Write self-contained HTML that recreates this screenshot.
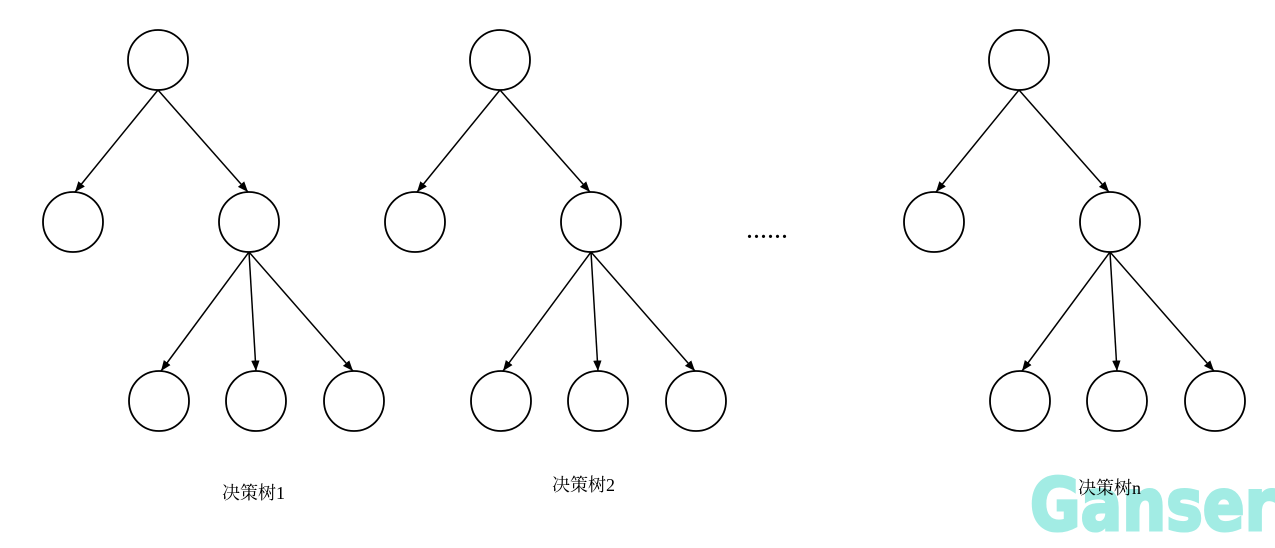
<!DOCTYPE html>
<html><head><meta charset="utf-8"><style>
html,body{margin:0;padding:0;background:#fff;}
svg{display:block}
</style></head><body>
<svg width="1275" height="548" xmlns="http://www.w3.org/2000/svg">
<defs>
<marker id="a" viewBox="0 0 10 10" refX="10" refY="5" markerWidth="7" markerHeight="7" orient="auto"><path d="M0,1 L10,5 L0,9 z" fill="#000"/></marker>
</defs>
<text x="1030" y="530" font-family="DejaVu Sans, sans-serif" font-size="72" font-weight="bold" fill="#a2ece4" stroke="#a2ece4" stroke-width="3" textLength="245" lengthAdjust="spacingAndGlyphs">Ganser</text>
<g fill="none" stroke="#000" stroke-width="1.8">
<g id="t">
<circle cx="158" cy="60" r="30"/>
<circle cx="73" cy="222" r="30"/>
<circle cx="249" cy="222" r="30"/>
<circle cx="159" cy="401" r="30"/>
<circle cx="256" cy="401" r="30"/>
<circle cx="354" cy="401" r="30"/>
<g stroke-width="1.5" marker-end="url(#a)">
<line x1="158" y1="90" x2="75" y2="192"/>
<line x1="158" y1="90" x2="248" y2="192"/>
<line x1="249" y1="252" x2="161" y2="371"/>
<line x1="249" y1="252" x2="256" y2="371"/>
<line x1="249" y1="252" x2="353" y2="371"/>
</g>
</g>
<use href="#t" x="342" y="0"/>
<use href="#t" x="861" y="0"/>
</g>
<g font-family="Liberation Serif, Noto Serif CJK SC, serif" font-size="18" fill="#000">
<text x="222" y="499">决策树1</text>
<text x="552" y="491">决策树2</text>
<text x="1078" y="494">决策树n</text>
<text x="747" y="238" font-size="20" font-weight="bold" letter-spacing="2">......</text>
</g>
</svg>
</body></html>
